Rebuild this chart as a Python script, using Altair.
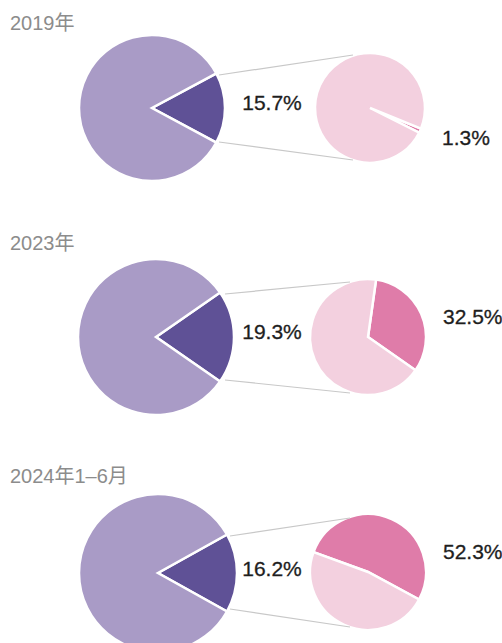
import math
import altair as alt
import pandas as pd

# ---- data ----
periods = ["2019年", "2023年", "2024年1–6月"]
share_big = [15.7, 19.3, 16.2]      # share of the big pie (dark purple slice)
share_small = [1.3, 32.5, 52.3]     # share inside the small pie (dark pink slice)
big_labels = ["15.7%", "19.3%", "16.2%"]
small_labels = ["1.3%", "32.5%", "52.3%"]

# ---- layout / style (pixels) ----
W, H = 502, 643
big_c = [(152, 108, 73), (156, 337, 78), (158, 573, 79)]
small_c = [(370, 108, 55), (368, 337, 58), (368, 572, 58)]
small_start_deg = [112, 8, 290]
title_pos = [(10, 24), (10, 244), (10, 477)]
big_lab_pos = [(272, 104), (272, 333), (272, 570)]
small_lab_pos = [(442, 139), (443, 318), (443, 553)]
conn = [
    [(219, 75, 353, 55), (219, 142, 353, 160)],
    [(225, 294, 350, 282), (225, 380, 350, 393)],
    [(230, 536, 350, 518), (230, 609, 350, 627)],
]
PURPLE_L, PURPLE_D = "#A99BC6", "#5F5196"
PINK_L, PINK_D = "#F3D0DF", "#DF7CA9"
FONT = "Liberation Sans, Noto Sans CJK SC, sans-serif"

dummy = pd.DataFrame({"a": [0]})


def pie(share, cx, cy, r, start, dark, light):
    df = pd.DataFrame({"part": ["share", "rest"], "value": [share, 100 - share], "idx": [0, 1]})
    return alt.Chart(df).mark_arc(radius=r, stroke="white", strokeWidth=2.5).encode(
        theta=alt.Theta("value:Q", stack=True,
                        scale=alt.Scale(domain=[0, 100], range=[start, start + 2 * math.pi])),
        order=alt.Order("idx:Q"),
        color=alt.condition("datum.part == 'share'", alt.value(dark), alt.value(light)),
        x=alt.value(cx), y=alt.value(cy),
    )


def label(text, x, y, color, align="center", size=21, stroke_w=0.3):
    df = pd.DataFrame({"t": [text]})
    return alt.Chart(df).mark_text(align=align, baseline="middle", font=FONT,
                                   fontSize=size, color=color, stroke=color,
                                   strokeWidth=stroke_w).encode(
        text="t:N", x=alt.value(x), y=alt.value(y))


layers = []
for i in range(3):
    cx, cy, r = big_c[i]
    start = math.pi / 2 - share_big[i] * math.pi / 100
    layers.append(pie(share_big[i], cx, cy, r, start, PURPLE_D, PURPLE_L))
    sx, sy, sr = small_c[i]
    layers.append(pie(share_small[i], sx, sy, sr, math.radians(small_start_deg[i]), PINK_D, PINK_L))
    for (x1, y1, x2, y2) in conn[i]:
        layers.append(alt.Chart(dummy).mark_rule(color="#c8c8c8", strokeWidth=1.2).encode(
            x=alt.value(x1), y=alt.value(y1), x2=alt.value(x2), y2=alt.value(y2)))
    layers.append(label(periods[i], *title_pos[i], "#8c8c8c", align="left", size=20, stroke_w=0))
    layers.append(label(big_labels[i], *big_lab_pos[i], "#1e1e1e"))
    layers.append(label(small_labels[i], *small_lab_pos[i], "#1e1e1e", align="left"))

chart = alt.layer(*layers).resolve_scale(theta="independent").properties(
    width=W, height=H, padding=0, autosize="none", background="white"
).configure_view(strokeWidth=0)

chart.save("out.html", embed_options={"renderer": "svg", "actions": False})
